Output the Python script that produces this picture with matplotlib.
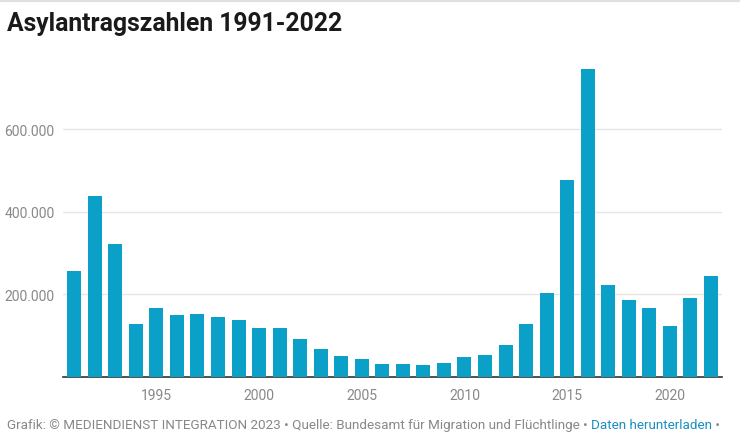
import numpy as np
import matplotlib.pyplot as plt
from matplotlib.ticker import FuncFormatter

jahre = list(range(1991, 2023))
antraege = [256112, 438191, 322599, 127210, 166951, 149193, 151700, 143429,
            138319, 117648, 118306, 91471, 67848, 50152, 42908, 30100,
            30303, 28018, 33033, 48589, 53347, 77651, 127023, 202834,
            476649, 745545, 222683, 185853, 165938, 122170, 190816, 244132]
yticks = [200000, 400000, 600000]
xticks = [1995, 2000, 2005, 2010, 2015, 2020]

plt.rcParams['font.family'] = ['Roboto', 'DejaVu Sans']

fig = plt.figure(figsize=(7.4, 4.39), dpi=100)
ax = fig.add_axes([0.085, 0.140, 0.891, 0.723])

ax.bar(jahre, antraege, width=0.68, color='#0aa0c8', zorder=3)
ax.set_xlim(1990.45, 2022.55)
ax.set_ylim(0, 770000)

ax.set_yticks(yticks)
ax.yaxis.set_major_formatter(FuncFormatter(lambda v, p: '{:,.0f}'.format(v).replace(',', '.')))
ax.set_xticks(xticks)
ax.grid(axis='y', color='#e6e6e6', linewidth=1, zorder=0)
ax.tick_params(axis='both', length=0, labelsize=10, labelcolor='#888888')
ax.tick_params(axis='x', pad=8)
ax.tick_params(axis='y', pad=6)
for s in ['top', 'right', 'left']:
    ax.spines[s].set_visible(False)
ax.spines['bottom'].set_color('#333333')
ax.spines['bottom'].set_linewidth(1.2)

fig.add_artist(plt.Line2D([0, 1], [0.995, 0.995], color='#e0e0e0', linewidth=1.5))
fig.text(0.009, 0.945, 'Asylantragszahlen 1991-2022', fontsize=17.8, fontweight='bold',
         color='#1a1a1a', va='center', ha='left')

fs = 9.7
t1 = fig.text(0.009, 0.016, 'Grafik: © MEDIENDIENST INTEGRATION 2023 • Quelle: Bundesamt für Migration und Flüchtlinge • ',
              fontsize=fs, color='#888888', ha='left', va='bottom')
fig.canvas.draw()
bb = t1.get_window_extent()
t2 = fig.text(bb.x1 / fig.bbox.width, 0.016, 'Daten herunterladen', fontsize=fs, color='#1b8fc2',
              ha='left', va='bottom')
bb2 = t2.get_window_extent()
fig.text(bb2.x1 / fig.bbox.width, 0.016, ' •', fontsize=fs, color='#888888', ha='left', va='bottom')

plt.savefig('out.png', dpi=100)
